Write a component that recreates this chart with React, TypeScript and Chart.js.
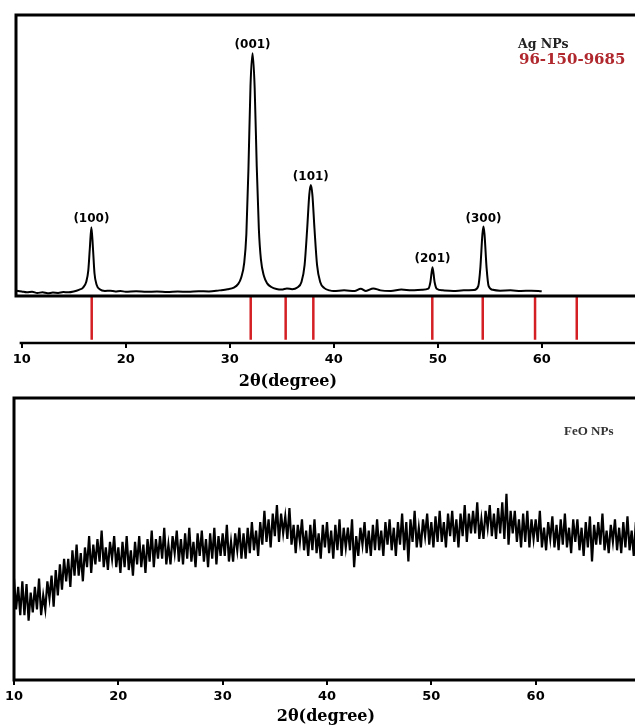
import React, { useEffect, useRef } from "react";
import { Chart, registerables } from "chart.js";
Chart.register(...registerables);

// ---------- Ag NPs XRD pattern ----------
const agX = [9.5, 10, 10.5, 11, 11.5, 12, 12.5, 13, 13.5, 14, 14.5, 15, 15.5, 15.9, 16.2, 16.4, 16.55, 16.7, 16.85, 17.0, 17.2, 17.5, 18, 18.5, 19, 19.5, 20, 21, 22, 23, 24, 25, 26, 27, 28, 29, 29.8, 30.4, 30.8, 31.1, 31.4, 31.6, 31.8, 32.0, 32.2, 32.4, 32.6, 32.8, 33.0, 33.3, 33.6, 34.0, 34.5, 35.0, 35.5, 36.0, 36.5, 36.9, 37.2, 37.45, 37.65, 37.8, 37.95, 38.15, 38.4, 38.7, 39.1, 39.6, 40, 41, 42, 42.6, 43.1, 43.8, 44.5, 45.5, 46.5, 47.5, 48.5, 49.1, 49.3, 49.5, 49.7, 49.9, 50.5, 51.5, 52.5, 53.5, 53.9, 54.1, 54.3, 54.4, 54.5, 54.7, 54.9, 55.3, 56, 57, 58, 59, 60];
const agY = [1.9, 1.6, 1.3, 1.5, 1.1, 1.3, 1.0, 1.2, 1.1, 1.4, 1.3, 1.6, 2.2, 3.0, 5, 9, 17, 24.5, 17, 8, 4, 2.4, 1.8, 1.9, 1.6, 1.8, 1.5, 1.7, 1.5, 1.6, 1.4, 1.6, 1.5, 1.7, 1.6, 2.0, 2.4, 3.0, 4.2, 6.5, 12, 22, 45, 75, 86.4, 74, 46, 24, 13, 7, 4.5, 3.2, 2.5, 2.3, 2.7, 2.4, 3.0, 5, 11, 24, 36, 39.5, 36, 24, 11, 5, 2.8, 2.0, 1.8, 2.0, 1.8, 2.6, 1.8, 2.7, 2.0, 1.8, 2.3, 2.0, 2.2, 2.6, 5, 10.2, 5, 2.6, 2.0, 1.8, 2.0, 2.1, 3.5, 10, 22, 24.7, 22, 10, 3.5, 2.2, 1.9, 2.0, 1.8, 1.9, 1.7];

const peakLabels = ["(100)", "(001)", "(101)", "(201)", "(300)"];
const peakX = [16.7, 32.2, 37.8, 49.5, 54.4];
const peakY = [24.5, 86.4, 39.5, 10.2, 24.7];

const refLines = [16.73, 32.02, 35.38, 38.04, 49.48, 54.33, 59.36, 63.37];
const refBottom = -15.6;

const tickValues = [10, 20, 30, 40, 50, 60];
const axisTitle = "2θ(degree)";
const agName = "Ag NPs";
const agCard = "96-150-9685";
const feoName = "FeO NPs";

// ---------- FeO NPs XRD pattern (2θ from 10 to 70, step 0.2) ----------
const feoStart = 10;
const feoStep = 0.2;
const feoY = [
  36, 25, 33, 23, 35,
  23, 34, 21, 31, 24,
  33, 25, 36, 23, 30,
  25, 35, 29, 37, 26,
  39, 30, 41, 32, 43,
  35, 43, 33, 46, 37,
  48, 37, 45, 35, 47,
  40, 51, 38, 48, 41,
  50, 42, 53, 40, 47,
  39, 49, 43, 51, 40,
  47, 38, 49, 40, 51,
  39, 46, 37, 49, 41,
  51, 40, 48, 38, 50,
  42, 53, 40, 50, 43,
  51, 43, 54, 41, 48,
  41, 51, 45, 53, 42,
  50, 41, 52, 43, 54,
  42, 49, 40, 52, 44,
  53, 42, 50, 40, 52,
  43, 54, 41, 51, 44,
  52, 44, 55, 42, 49,
  42, 52, 46, 54, 43,
  52, 43, 54, 45, 56,
  46, 53, 44, 56, 48,
  60, 49, 57, 47, 59,
  51, 62, 49, 59, 52,
  58, 50, 61, 48, 55,
  45, 55, 49, 57, 46,
  53, 44, 55, 46, 57,
  45, 52, 43, 55, 47,
  56, 45, 53, 43, 55,
  46, 57, 44, 54, 47,
  54, 46, 57, 40, 51,
  44, 54, 48, 56, 45,
  53, 44, 55, 46, 57,
  46, 53, 44, 56, 48,
  57, 46, 54, 44, 56,
  48, 59, 46, 56, 42,
  57, 49, 60, 47, 54,
  47, 57, 51, 59, 48,
  56, 47, 58, 49, 60,
  49, 56, 47, 59, 51,
  60, 49, 57, 47, 59,
  51, 62, 49, 59, 52,
  60, 52, 63, 50, 57,
  50, 60, 54, 62, 51,
  59, 50, 61, 52, 63,
  50, 66, 48, 60, 52,
  60, 49, 57, 47, 59,
  49, 60, 47, 57, 50,
  57, 49, 60, 47, 54,
  46, 56, 50, 58, 47,
  55, 46, 57, 48, 59,
  47, 54, 45, 57, 49,
  57, 46, 54, 44, 56,
  47, 58, 42, 55, 48,
  56, 48, 59, 46, 53,
  45, 55, 49, 57, 46,
  54, 45, 56, 47, 58,
  46, 53, 44, 56, 48,
  51,
];

const tickFont = { family: "DejaVu Sans", weight: "bold" as const, size: 13 };

function xAxis(min: number, max: number) {
  return {
    type: "linear" as const,
    min,
    max,
    afterBuildTicks: (axis: any) => {
      axis.ticks = tickValues.map((v) => ({ value: v }));
    },
    grid: { drawOnChartArea: false, drawTicks: true, tickLength: 5, color: "#000", lineWidth: 2 },
    border: { display: false },
    ticks: {
      font: tickFont,
      color: "#000",
      padding: 4,
      maxRotation: 0,
      autoSkip: false,
      callback: (v: any) => String(v),
    },
  };
}

const topPlugin = {
  id: "topDecor",
  afterDatasetsDraw(chart: any) {
    const { ctx, chartArea, scales } = chart;
    const x = scales.x;
    const y = scales.y;
    const y0 = y.getPixelForValue(0);
    ctx.save();
    ctx.strokeStyle = "#000";
    ctx.lineWidth = 3;
    ctx.strokeRect(chartArea.left, chartArea.top, chartArea.right - chartArea.left, y0 - chartArea.top);
    ctx.lineWidth = 2.5;
    ctx.beginPath();
    ctx.moveTo(x.getPixelForValue(9.8), chartArea.bottom);
    ctx.lineTo(chartArea.right, chartArea.bottom);
    ctx.stroke();
    ctx.fillStyle = "#000";
    ctx.font = 'bold 12px "DejaVu Sans"';
    ctx.textAlign = "center";
    ctx.textBaseline = "bottom";
    peakLabels.forEach((l, i) => {
      ctx.fillText(l, x.getPixelForValue(peakX[i]), y.getPixelForValue(peakY[i]) - 2);
    });
    ctx.textAlign = "left";
    ctx.textBaseline = "middle";
    ctx.fillStyle = "#222";
    ctx.font = 'bold 12.5px "DejaVu Serif"';
    ctx.fillText(agName, 518, 45);
    ctx.fillStyle = "#b0282d";
    ctx.font = 'bold 15px "DejaVu Serif"';
    ctx.fillText(agCard, 519, 60);
    ctx.fillStyle = "#000";
    ctx.textAlign = "center";
    ctx.font = 'bold 16px "DejaVu Serif"';
    ctx.fillText(axisTitle, x.getPixelForValue(35.6), 382);
    ctx.restore();
  },
};

const botPlugin = {
  id: "botDecor",
  afterDatasetsDraw(chart: any) {
    const { ctx, chartArea, scales } = chart;
    const x = scales.x;
    ctx.save();
    ctx.strokeStyle = "#000";
    ctx.lineWidth = 3;
    ctx.strokeRect(chartArea.left, chartArea.top, chartArea.right - chartArea.left, chartArea.bottom - chartArea.top);
    ctx.fillStyle = "#333";
    ctx.textAlign = "left";
    ctx.textBaseline = "middle";
    ctx.font = 'bold 13px "Liberation Serif"';
    ctx.fillText(feoName, 564, 40);
    ctx.fillStyle = "#000";
    ctx.textAlign = "center";
    ctx.font = 'bold 16px "DejaVu Serif"';
    ctx.fillText(axisTitle, x.getPixelForValue(39.9), 325);
    ctx.restore();
  },
};

export default function App() {
  const topRef = useRef<HTMLCanvasElement>(null);
  const botRef = useRef<HTMLCanvasElement>(null);

  useEffect(() => {
    const agData = agX.map((xv, i) => ({ x: xv, y: agY[i] }));
    const refData: any[] = [];
    refLines.forEach((p) => {
      refData.push({ x: p, y: refBottom }, { x: p, y: 0 }, { x: p, y: null });
    });
    const c1 = new Chart(topRef.current!, {
      type: "line",
      data: {
        datasets: [
          {
            data: agData,
            borderColor: "#000",
            borderWidth: 2,
            pointRadius: 0,
            cubicInterpolationMode: "monotone",
          },
          {
            data: refData,
            borderColor: "#d41f24",
            borderWidth: 2.5,
            pointRadius: 0,
            spanGaps: false,
          },
        ],
      },
      options: {
        responsive: false,
        animation: false,
        devicePixelRatio: 1,
        events: [],
        layout: { padding: { left: 16, top: 15, right: 19.5, bottom: 20.4 } },
        plugins: { legend: { display: false }, tooltip: { enabled: false } },
        scales: {
          x: xAxis(9.45, 69.5),
          y: { display: false, min: -16.73, max: 100 },
        },
      },
      plugins: [topPlugin],
    });

    const feoData = feoY.map((v, i) => ({ x: feoStart + i * feoStep, y: v }));
    const c2 = new Chart(botRef.current!, {
      type: "line",
      data: {
        datasets: [
          {
            data: feoData,
            borderColor: "#000",
            borderWidth: 2.2,
            pointRadius: 0,
          },
        ],
      },
      options: {
        responsive: false,
        animation: false,
        devicePixelRatio: 1,
        events: [],
        layout: { padding: { left: 14, top: 6, right: 20, bottom: 17.4 } },
        plugins: { legend: { display: false }, tooltip: { enabled: false } },
        scales: {
          x: xAxis(10, 70),
          y: { display: false, min: 0, max: 100 },
        },
      },
      plugins: [botPlugin],
    });

    return () => {
      c1.destroy();
      c2.destroy();
    };
  }, []);

  return (
    <div
      style={{
        position: "absolute",
        left: 0,
        top: 0,
        width: 635,
        height: 726,
        overflow: "hidden",
        background: "#fff",
      }}
    >
      <canvas ref={topRef} width={660} height={392} style={{ position: "absolute", left: 0, top: 0 }} />
      <canvas ref={botRef} width={660} height={334} style={{ position: "absolute", left: 0, top: 392 }} />
    </div>
  );
}
